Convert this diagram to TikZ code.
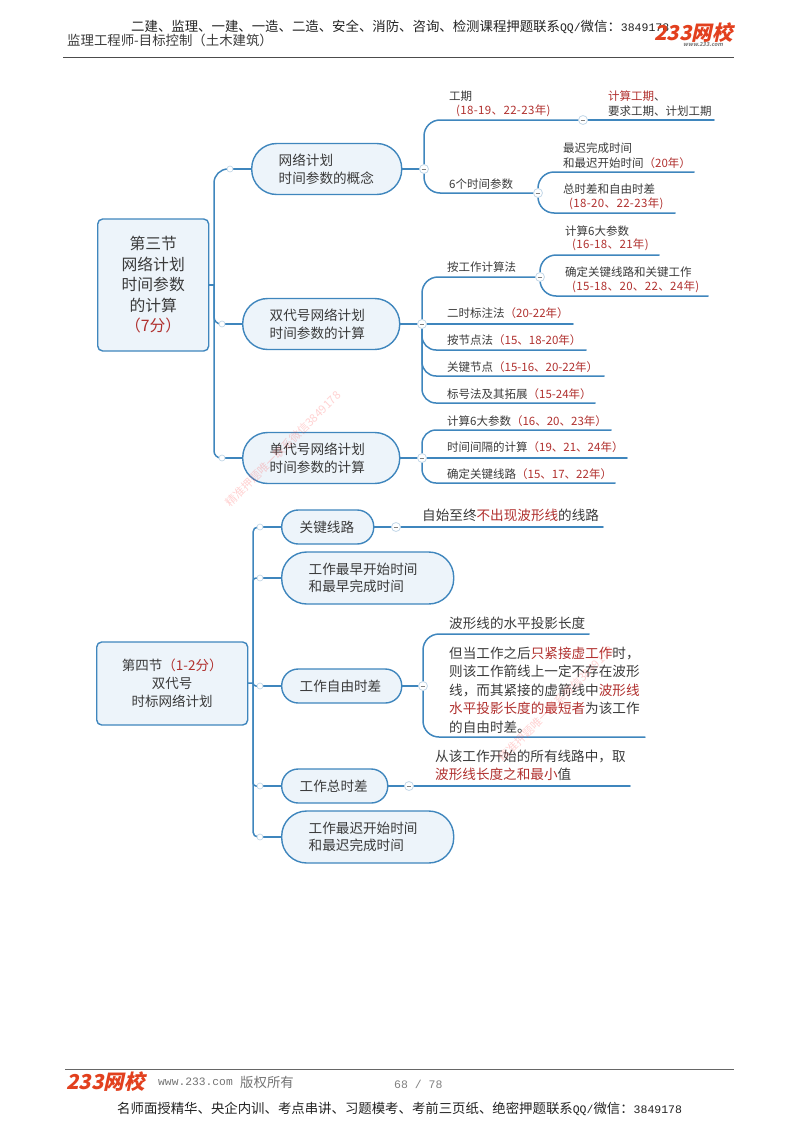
\documentclass[tikz,border=0pt]{standalone}
\usepackage{fontspec}
\usetikzlibrary{backgrounds}
\setmainfont{Noto Sans CJK SC}
\newfontfamily\mono{Liberation Mono}
\newfontfamily\logof[FakeSlant=0.22,BoldFeatures={FakeSlant=0.22}]{Noto Sans CJK SC}
\definecolor{bl}{HTML}{3F86BD}
\definecolor{fillb}{HTML}{EDF4FA}
\definecolor{tx}{HTML}{3A3A3A}
\definecolor{rd}{HTML}{B0302E}
\definecolor{ring}{HTML}{C4D8E8}
\definecolor{hd}{HTML}{222222}
\definecolor{logoc}{HTML}{E2401E}
\newcommand{\R}[1]{\textcolor{rd}{#1}}
\newcommand{\Y}[1]{\textcolor{rd}{\addfontfeature{LetterSpace=3}#1}}
\newcommand{\sz}[1]{\fontsize{#1}{#1}\selectfont}
\newcommand{\ml}[1]{{\mono\sz{11.5}#1}}
\tikzset{
  x=1pt,y=-1pt,
  boxn/.style args={#1/#2/#3}{draw=bl,line width=1.4pt,fill=fillb,anchor=west,text=tx,
     minimum width=#1pt,minimum height=#2pt,inner xsep=#3pt,inner ysep=0pt,
     text width=#1pt-2*#3pt,align=left},
  root/.style={rounded corners=5pt},
  pilla/.style={rounded corners=25pt},
  pillb/.style={rounded corners=16.5pt},
  lab/.style={anchor=west,inner sep=0pt,text=tx,font=\sz{11.5},align=left},
  txt/.style={anchor=west,inner sep=0pt,text=tx,font=\sz{13.6},align=left},
  branch/.style={draw=bl,line width=1.5pt,line cap=round},
  minusn/.style={circle,draw=ring,fill=white,line width=.8pt,minimum size=9pt,inner sep=0pt,
     path picture={\draw[gray,line width=.6pt] ([xshift=-2.4pt]path picture bounding box.center)--([xshift=2.4pt]path picture bounding box.center);}},
  dotn/.style={circle,draw=ring,fill=white,line width=.7pt,minimum size=6pt,inner sep=0pt},
  head/.style={anchor=west,inner sep=0pt,text=hd,font=\sz{13.4}},
  wm/.style={text=red!70!white,opacity=.25,font=\sz{11.3},inner sep=0pt},
  logon/.style={anchor=west,inner sep=0pt,text=logoc,font=\logof\bfseries\sz{20.5}},
}
\begin{document}
\begin{tikzpicture}
\useasboundingbox (0,0) rectangle (800,1132);
% header
\node[head] (h1) at (131,27) {二建、监理、一建、一造、二造、安全、消防、咨询、检测课程押题联系\ml{QQ/}微信：\ml{3849178}};
\node[head,text=tx] (h2) at (67,40) {监理工程师-目标控制（土木建筑）};
\node[logon] (lg1) at (654,33) {233网校};
\node[anchor=west,inner sep=0pt,text=gray,font=\logof\bfseries\sz{5.5}] (lg2) at (683,45) {www.233.com};
\coordinate (hr1) at (63,57.5); \coordinate (hr2) at (734,57.5);
\draw[line width=1pt,black!70] (hr1) -- (hr2);
% footer
\coordinate (fr1) at (65,1069); \coordinate (fr2) at (734,1069);
\draw[line width=1pt,black!60] (fr1) -- (fr2);
\node[logon] (lg3) at (66,1082) {233网校};
\node[head,text=gray!90!black] (f1) at (158,1082) {\mono\sz{11.3}www.233.com};
\node[head,text=gray!90!black] (f2) at (240,1082) {版权所有};
\node[head,text=gray,font=\mono\sz{11.5}] (f3) at (394,1084) {68 / 78};
\node[head] (f4) at (117,1109) {名师面授精华、央企内训、考点串讲、习题模考、考前三页纸、绝密押题联系\ml{QQ/}微信：\ml{3849178}};
% ---- section 3
\node[boxn=111/132/5,root,align=center,font=\sz{15.8}] (r3) at (97,285) {第三节\\[4.7pt]网络计划\\[4.7pt]时间参数\\[4.7pt]的计算\\[4.7pt]\R{（7分）}};
\node[boxn=150/51/27,pilla,font=\sz{13.6}] (a) at (251,169) {网络计划\\[4pt]时间参数的概念};
\node[boxn=157/51/27,pilla,font=\sz{13.6}] (b) at (242,324) {双代号网络计划\\[4pt]时间参数的计算};
\node[boxn=157/51/27,pilla,font=\sz{13.6}] (c) at (242,458) {单代号网络计划\\[4pt]时间参数的计算};
\node[dotn] (da) at (230,169) {};
\node[dotn] (db) at (222,324) {};
\node[dotn] (dc) at (222,458) {};
\coordinate (t3) at (214,285);
% a subtree
\node[minusn] (ma) at (424,169) {};
\node[minusn] (m1) at (583,120) {};
\node[minusn] (m2) at (538,193) {};
\coordinate (e1) at (714,120);
\coordinate (e2) at (694,172);
\coordinate (e3) at (675,213);
\node[lab] (t1) at (449,96) {工期};
\node[lab] (t2) at (456,111) {\Y{(18-19、22-23年)}};
\node[lab] (t3a) at (608,96) {\R{计算工期}、};
\node[lab] (t3b) at (608,111) {要求工期、计划工期};
\node[lab] (t4) at (449,184) {6个时间参数};
\node[lab] (t5) at (563,148) {最迟完成时间};
\node[lab] (t6) at (563,163) {和最迟开始时间\R{（20年）}};
\node[lab] (t7) at (563,189) {总时差和自由时差};
\node[lab] (t8) at (569,204) {\Y{(18-20、22-23年)}};
% b subtree
\node[minusn] (mb) at (422,324) {};
\node[minusn] (m3) at (540,277) {};
\coordinate (e4) at (659,255);
\coordinate (e5) at (708,296);
\coordinate (e6) at (573,324);
\coordinate (e7) at (586,350);
\coordinate (e8) at (604,376);
\coordinate (e9) at (595,403);
\node[lab] (t9) at (447,267) {按工作计算法};
\node[lab] (t10) at (565,231) {计算6大参数};
\node[lab] (t11) at (572,245) {\Y{(16-18、21年)}};
\node[lab] (t12) at (565,272) {确定关键线路和关键工作};
\node[lab] (t13) at (572,287) {\Y{(15-18、20、22、24年)}};
\node[lab] (t14) at (447,313) {二时标注法\R{（20-22年）}};
\node[lab] (t15) at (447,340) {按节点法\R{（15、18-20年）}};
\node[lab] (t16) at (447,367) {关键节点\R{（15-16、20-22年）}};
\node[lab] (t17) at (447,394) {标号法及其拓展\R{（15-24年）}};
% c subtree
\node[minusn] (mc) at (422,458) {};
\coordinate (e10) at (611,430);
\coordinate (e11) at (627,458);
\coordinate (e12) at (615,483);
\node[lab] (t18) at (447,421) {计算6大参数\R{（16、20、23年）}};
\node[lab] (t19) at (447,447) {时间间隔的计算\R{（19、21、24年）}};
\node[lab] (t20) at (447,474) {确定关键线路\R{（15、17、22年）}};
% ---- section 4
\node[boxn=151/83/5,root,align=center,font=\sz{13.5}] (r4) at (96,683.5) {第四节\R{（1-2分）}\\[4.5pt]双代号\\[4.5pt]时标网络计划};
\node[boxn=92/34/18,pillb,font=\sz{13.6}] (n1) at (281,527) {关键线路};
\node[boxn=172/52/27,pilla,font=\sz{13.6}] (n2) at (281,578) {工作最早开始时间\\[4pt]和最早完成时间};
\node[boxn=120/34/18,pillb,font=\sz{13.6}] (n3) at (281,686) {工作自由时差};
\node[boxn=106/34/18,pillb,font=\sz{13.6}] (n4) at (281,786) {工作总时差};
\node[boxn=172/52/27,pilla,font=\sz{13.6}] (n5) at (281,837) {工作最迟开始时间\\[4pt]和最迟完成时间};
\coordinate (t4c) at (253,683);
\node[dotn] (d1) at (260,527) {};
\node[dotn] (d2) at (260,578) {};
\node[dotn] (d3) at (260,686) {};
\node[dotn] (d4) at (260,786) {};
\node[dotn] (d5) at (260,837) {};
\node[minusn] (m4) at (396,527) {};
\node[minusn] (m5) at (423,686) {};
\node[minusn] (m6) at (409,786) {};
\coordinate (e13) at (603,527);
\coordinate (e14) at (589,634);
\coordinate (e15) at (645,737);
\coordinate (e16) at (630,786);
\node[txt] (x1) at (422,515) {自始至终\R{不出现波形线}的线路};
\node[txt] (x2) at (449,623) {波形线的水平投影长度};
\node[txt] (x3) at (449,690) {但当工作之后\R{只紧接虚工作}时，\\[4.9pt]则该工作箭线上一定不存在波形\\[4.9pt]线，而其紧接的虚箭线中\R{波形线}\\[4.9pt]\R{水平投影长度的最短者}为该工作\\[4.9pt]的自由时差。};
\node[txt] (x4) at (435,765.5) {从该工作开始的所有线路中，取\\[4.9pt]\R{波形线长度之和最小}值};
% watermarks
\node[wm,rotate=45] (w1) at (283,449) {精准押题唯一联系微信3849178};
\node[wm,rotate=45] (w2) at (556,704) {精准押题唯一联系微信3849178};
% ---- connectors
\begin{scope}[on background layer]
\draw[branch] (r3) -- (t3);
\draw[branch,rounded corners=14pt] (t3) |- (da.center);
\draw[branch,rounded corners=7pt] (t3) |- (db.center);
\draw[branch,rounded corners=7pt] (t3) |- (dc.center);
\draw[branch] (da.center) -- (a);
\draw[branch] (db.center) -- (b);
\draw[branch] (dc.center) -- (c);
\draw[branch] (a) -- (ma.center);
\draw[branch,rounded corners=16pt] (ma.center) |- (m1.center);
\draw[branch,rounded corners=16pt] (ma.center) |- (m2.center);
\draw[branch] (m1.center) -- (e1);
\draw[branch,rounded corners=16pt] (m2.center) |- (e2);
\draw[branch,rounded corners=16pt] (m2.center) |- (e3);
\draw[branch] (b) -- (mb.center);
\draw[branch,rounded corners=16pt] (mb.center) |- (m3.center);
\draw[branch,rounded corners=16pt] (m3.center) |- (e4);
\draw[branch,rounded corners=16pt] (m3.center) |- (e5);
\draw[branch] (mb.center) -- (e6);
\draw[branch,rounded corners=14pt] (mb.center) |- (e7);
\draw[branch,rounded corners=14pt] (mb.center) |- (e8);
\draw[branch,rounded corners=14pt] (mb.center) |- (e9);
\draw[branch] (c) -- (mc.center);
\draw[branch,rounded corners=14pt] (mc.center) |- (e10);
\draw[branch,rounded corners=14pt] (mc.center) |- (e12);
\draw[branch] (mc.center) -- (e11);
\draw[branch] (r4) -- (t4c);
\draw[branch,rounded corners=5pt] (t4c) |- (d1.center);
\draw[branch,rounded corners=3pt] (t4c) |- (d2.center);
\draw[branch,rounded corners=3pt] (t4c) |- (d3.center);
\draw[branch,rounded corners=3pt] (t4c) |- (d4.center);
\draw[branch,rounded corners=5pt] (t4c) |- (d5.center);
\draw[branch] (d1.center) -- (n1);
\draw[branch] (d2.center) -- (n2);
\draw[branch] (d3.center) -- (n3);
\draw[branch] (d4.center) -- (n4);
\draw[branch] (d5.center) -- (n5);
\draw[branch] (n1) -- (m4.center);
\draw[branch] (m4.center) -- (e13);
\draw[branch] (n3) -- (m5.center);
\draw[branch,rounded corners=16pt] (m5.center) |- (e14);
\draw[branch,rounded corners=16pt] (m5.center) |- (e15);
\draw[branch] (n4) -- (m6.center);
\draw[branch] (m6.center) -- (e16);
\end{scope}
\end{tikzpicture}
\end{document}
